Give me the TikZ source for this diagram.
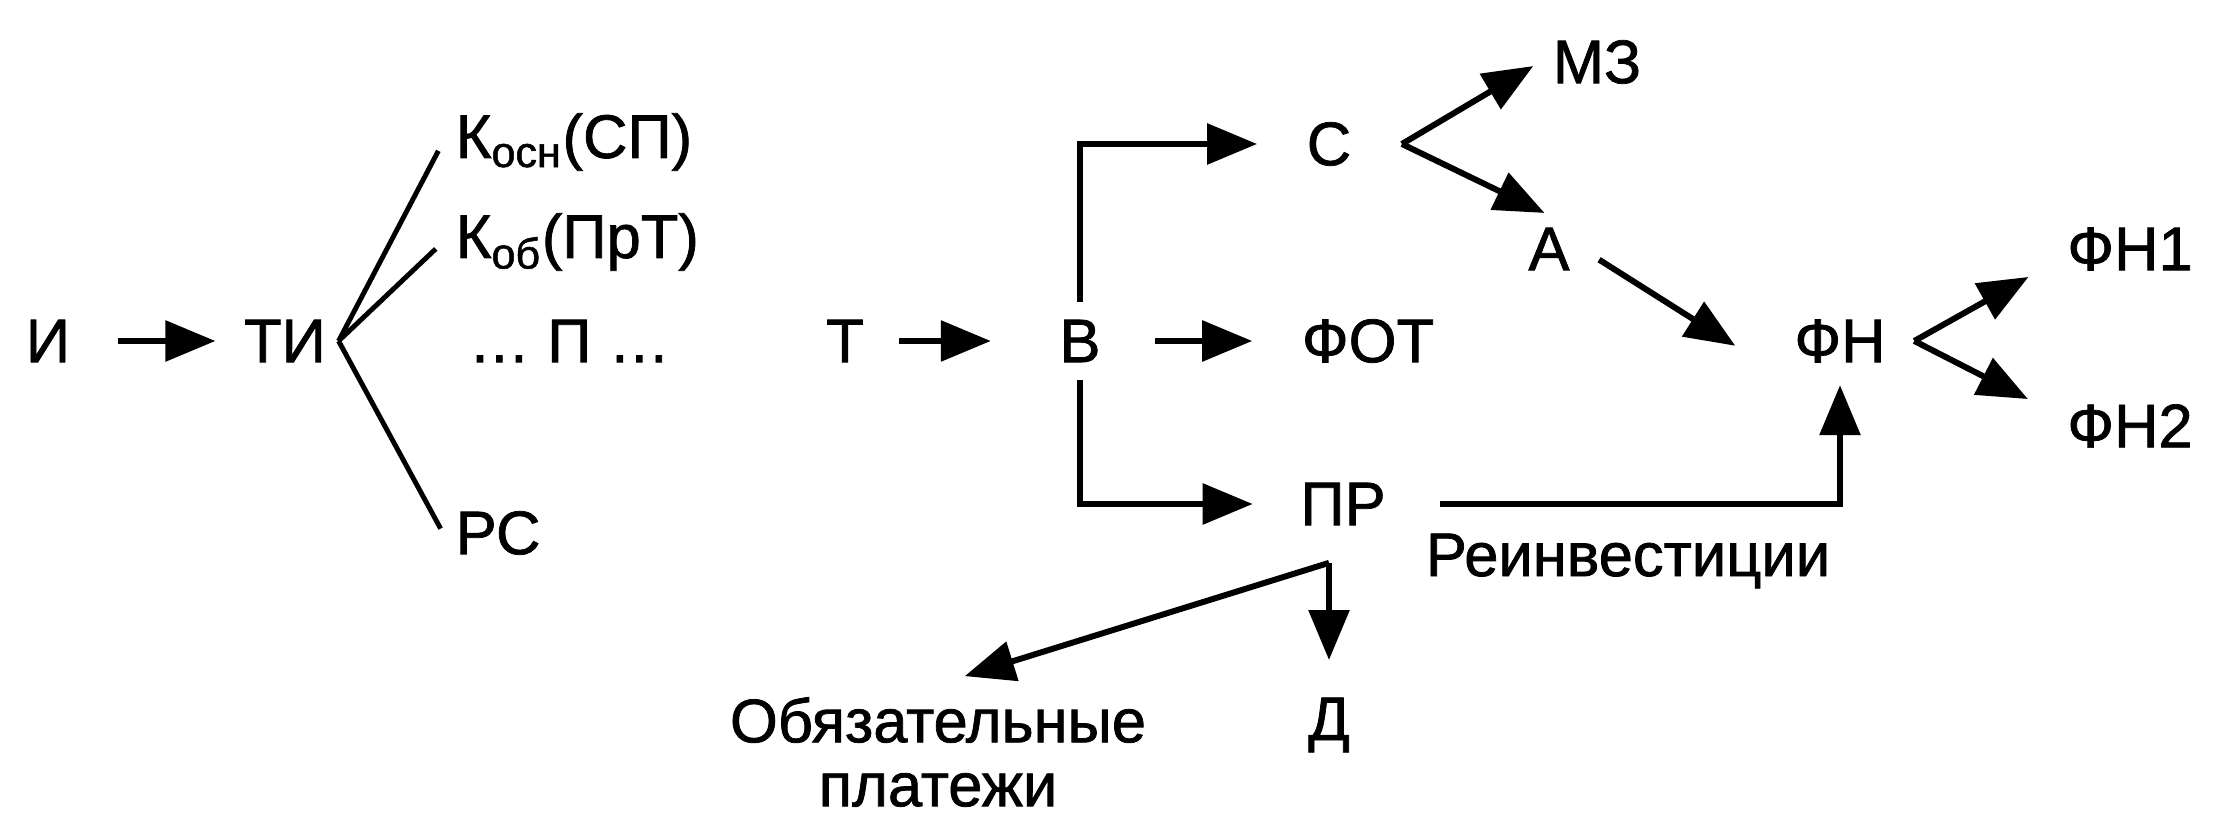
\documentclass[tikz,border=0pt]{standalone}
\usepackage{fontspec}
\setmainfont{Liberation Sans}
\newfontfamily\diagfont{Liberation Sans}[FakeBold=1.2]
\usetikzlibrary{arrows.meta}

\begin{document}
\begin{tikzpicture}[
		lbl/.style = {inner sep = 0.12cm, font = \diagfont\fontsize{17.5}{18.2}\selectfont},
		arr/.style = {line width = 1.7pt, -{Triangle[length = 0.5cm, width = 0.4cm]}, shorten <= 0.35cm, shorten >= 0.35cm},
		fan/.style = {line width = 1.4pt}
	]
	\useasboundingbox (0,0) rectangle (22.28,8.14);
	
	\node[lbl] (I) at (0.48,4.73) {И};
	\node[lbl] (TI) at (2.85,4.73) {ТИ};
	\node[lbl, anchor = west] (K1) at (4.43,6.72) {К\textsubscript{осн}(СП)};
	\node[lbl, anchor = west] (K2) at (4.43,5.72) {К\textsubscript{об}(ПрТ)};
	\node[lbl, anchor = west] (P) at (4.56,4.73) {… П …};
	\node[lbl, anchor = west] (RS) at (4.43,2.81) {РС};
	
	\node[lbl] (T) at (8.45,4.73) {Т};
	\node[lbl] (V) at (10.80,4.73) {В};
	\node[lbl] (FOT) at (13.68,4.73) {ФОТ};
	\node[lbl] (C) at (13.29,6.70) {С};
	\node[lbl] (MZ) at (15.97,7.52) {МЗ};
	\node[lbl] (A) at (15.49,5.65) {А};
	\node[lbl] (FN) at (18.40,4.73) {ФН};
	\node[lbl] (FN1) at (21.30,5.65) {ФН1};
	\node[lbl] (FN2) at (21.30,3.88) {ФН2};
	\node[lbl] (PR) at (13.43,3.10) {ПР};
	\node[lbl] (Reinv) at (16.28,2.53) {Реинвестиции};
	\node[lbl, align = center] (OP) at (9.38,0.62) {Обязательные\\платежи};
	\node[lbl] (D) at (13.29,0.89) {Д};
	
	\coordinate (TIfork) at (TI.east);
	\coordinate (Cfork) at ([xshift = 0.38cm]C.east);
	\coordinate (FNfork) at ([xshift = 0.16cm]FN.east);
	\coordinate (PRsplit) at ([xshift = -0.14cm, yshift = -0.25cm]PR.south);
	
	\draw[arr, shorten >= 0.16cm] (I) -- (TI);
	\draw[fan, shorten >= 0.1cm] (TIfork) -- (K1.west);
	\draw[fan, shorten >= 0.1cm] (TIfork) -- (K2.west);
	\draw[fan, shorten >= 0.05cm] (TIfork) -- (RS.west);
	
	\draw[arr, shorten <= 0.23cm, shorten >= 0.56cm] (T) -- (V);
	\draw[arr, shorten <= 0.42cm, shorten >= 0.37cm] (V) -- (FOT);
	\draw[arr, shorten <= 0.05cm, shorten >= 0.37cm] (V) |- (C);
	\draw[arr, shorten <= 0.05cm, shorten >= 0.35cm] (V) |- (PR);
	\draw[arr, shorten <= 0cm, shorten >= 0.08cm] (Cfork) -- (MZ.west);
	\draw[arr, shorten <= 0cm, shorten >= 0.05cm] (Cfork) -- (A.north);
	\draw[arr, shorten <= 0.2cm, shorten >= 0.55cm] (A.east) -- (FN.south west);
	\draw[arr, shorten <= 0cm, shorten >= 0.3cm] (FNfork) -- (FN1.190);
	\draw[arr, shorten <= 0cm, shorten >= 0.3cm] (FNfork) -- (FN2.170);
	\draw[arr, shorten <= 0.42cm, shorten >= 0.1cm] (PR) -| (FN);
	\draw[arr, shorten <= 0cm, shorten >= 0.25cm] (PRsplit) -- (D.north);
	\draw[arr, shorten <= 0cm, shorten >= 0.28cm] (PRsplit) -- (OP.north);
\end{tikzpicture}
\end{document}
